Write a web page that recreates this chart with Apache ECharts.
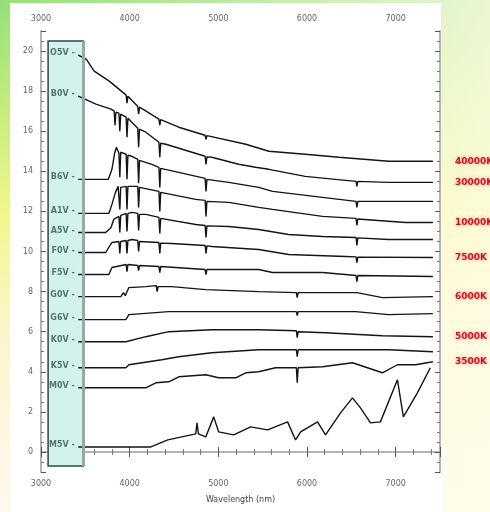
<!DOCTYPE html>
<html>
<head>
<meta charset="utf-8">
<script src="https://cdn.jsdelivr.net/npm/echarts@6/dist/echarts.min.js"></script>
<style>
html, body { margin: 0; padding: 0; }
body {
	width: 490px; height: 512px; overflow: hidden; position: relative;
	background:
		linear-gradient(90deg, rgba(255,255,255,0) 0%, rgba(255,253,232,0.8) 100%),
		linear-gradient(180deg, #94df7a 0%, #c6ed7c 22%, #f3f68c 42%, #fbf5cc 65%, #fff8ee 100%);
}
#panel { position: absolute; left: 10px; top: 3px; width: 431px; height: 509px; background: #fff; }
#main { position: absolute; left: 0; top: 0; width: 490px; height: 512px; }
</style>
</head>
<body>
<div id="panel"></div>
<div id="main"></div>
<script>
// spectral types, top to bottom
var types = ['O5V', 'B0V', 'B6V', 'A1V', 'A5V', 'F0V', 'F5V', 'G0V', 'G6V', 'K0V', 'K5V', 'M0V', 'M5V'];
// temperatures written at the right end (null = none)
var temps = ['40000K', '30000K', null, '10000K', null, '7500K', null, '6000K', null, '5000K', null, '3500K', null];

// [wavelength, flux + offset]
var o5V = [[3420,19.8],[3510,19.6],[3600,19.0],[3770,18.5],[3960,17.8],[3970,17.4],[3980,17.75],[4090,17.25],[4101,16.85],[4112,17.2],[4330,16.6],[4340,16.3],[4350,16.58],[4554,16.2],[4850,15.8],[4861,15.6],[4872,15.78],[5310,15.35],[5570,15.0],[5980,14.85],[6360,14.7],[6920,14.5],[7420,14.5]];
var b0V = [[3420,17.75],[3620,17.35],[3790,17.1],[3825,17.0],[3835,16.3],[3845,16.95],[3879,16.9],[3889,16.0],[3899,16.85],[3960,16.7],[3970,15.7],[3980,16.65],[4091,16.15],[4101,15.2],[4111,16.1],[4182,15.95],[4330,15.45],[4340,14.7],[4350,15.4],[4408,15.35],[4666,15.0],[4851,14.75],[4861,14.35],[4871,14.72],[4926,14.7],[5230,14.35],[5420,14.2],[5570,14.1],[5980,13.75],[6434,13.55],[6553,13.5],[6563,13.25],[6573,13.5],[6920,13.45],[7420,13.45]];
var b6V = [[3420,13.6],[3760,13.6],[3800,14.1],[3830,14.9],[3850,15.2],[3879,14.9],[3889,13.7],[3899,14.95],[3960,14.85],[3970,13.6],[3980,14.8],[4025,14.75],[4091,14.6],[4101,13.4],[4111,14.55],[4250,14.35],[4330,14.2],[4340,13.2],[4350,14.15],[4554,13.95],[4851,13.65],[4861,13.0],[4871,13.6],[5117,13.45],[5455,13.2],[5612,13.0],[6175,12.7],[6553,12.5],[6563,12.2],[6573,12.5],[6920,12.5],[7420,12.5]];
var a1V = [[3420,11.9],[3765,11.9],[3800,12.35],[3840,12.95],[3870,13.25],[3879,13.2],[3889,12.1],[3899,13.2],[3960,13.25],[3970,12.1],[3980,13.25],[4091,13.25],[4101,12.2],[4111,13.2],[4330,13.0],[4340,12.0],[4350,12.95],[4745,12.6],[4851,12.55],[4861,11.75],[4871,12.5],[5117,12.45],[5455,12.2],[5612,12.1],[6175,11.75],[6553,11.65],[6563,11.3],[6573,11.62],[7110,11.45],[7420,11.45]];
var a5V = [[3420,10.95],[3730,10.95],[3790,11.2],[3820,11.6],[3879,11.75],[3889,10.95],[3899,11.8],[3960,11.9],[3970,11.0],[3980,11.9],[4025,11.95],[4091,11.9],[4101,11.05],[4111,11.85],[4182,11.85],[4330,11.7],[4340,10.9],[4350,11.65],[4745,11.35],[4851,11.3],[4861,10.7],[4871,11.28],[5117,11.25],[5455,11.1],[5792,10.85],[6175,10.75],[6553,10.7],[6563,10.3],[6573,10.68],[6920,10.6],[7420,10.6]];
var f0V = [[3420,9.95],[3730,9.95],[3800,10.45],[3879,10.5],[3889,9.9],[3899,10.5],[3960,10.55],[3970,9.9],[3980,10.55],[4025,10.6],[4091,10.55],[4101,10.0],[4111,10.5],[4330,10.45],[4340,9.9],[4350,10.42],[4475,10.4],[4851,10.3],[4861,9.9],[4871,10.28],[4926,10.25],[5455,10.1],[5792,9.85],[6434,9.75],[6553,9.73],[6563,9.45],[6573,9.72],[7420,9.7]];
var f5V = [[3420,8.85],[3765,8.85],[3800,9.2],[3960,9.35],[3970,9.0],[3980,9.35],[3991,9.35],[4091,9.3],[4101,9.05],[4111,9.3],[4330,9.25],[4340,8.95],[4350,9.25],[4851,9.1],[4861,8.85],[4871,9.1],[5455,9.1],[5612,8.95],[6175,8.95],[6553,8.8],[6563,8.5],[6573,8.8],[7420,8.75]];
var g0V = [[3420,7.75],[3900,7.75],[3930,7.95],[3950,7.8],[3991,8.2],[4182,8.25],[4300,8.3],[4310,8.0],[4320,8.25],[4475,8.25],[4858,8.1],[5455,8.0],[5880,7.95],[5890,7.7],[5900,7.95],[6563,7.95],[6851,7.7],[7420,7.75]];
var g6V = [[3420,6.6],[3957,6.6],[3991,6.85],[4441,7.0],[4858,7.0],[5455,7.0],[5880,7.0],[5890,6.8],[5900,7.0],[6547,7.0],[6919,6.85],[7420,6.9]];
var k0V = [[3420,5.5],[3957,5.5],[4182,5.75],[4441,6.0],[4926,6.1],[5455,6.1],[5880,6.05],[5890,5.7],[5900,6.0],[6209,5.95],[6851,5.8],[7420,5.75]];
var k5V = [[3420,4.2],[3957,4.2],[3991,4.35],[4362,4.6],[4554,4.75],[4926,4.95],[5455,5.1],[5880,5.1],[5890,4.75],[5900,5.1],[6919,5.1],[7420,5.0]];
var m0V = [[3420,3.2],[4182,3.2],[4295,3.45],[4441,3.5],[4554,3.75],[4858,3.85],[5004,3.7],[5196,3.7],[5309,3.95],[5455,4.0],[5646,4.2],[5880,4.2],[5890,3.45],[5900,4.2],[6175,4.25],[6513,4.45],[6851,3.95],[7020,4.35],[7223,4.35],[7420,4.5]];
var m5V = [[3420,0.25],[4239,0.25],[4430,0.6],[4745,0.9],[4760,1.45],[4775,0.9],[4858,0.75],[4948,1.75],[5004,1.0],[5173,0.85],[5365,1.25],[5556,1.1],[5781,1.5],[5871,0.6],[5928,1.0],[6119,1.5],[6209,0.85],[6378,1.95],[6513,2.7],[6603,2.2],[6716,1.45],[6828,1.5],[7020,3.6],[7087,1.75],[7245,2.95],[7391,4.2]];

var spectra = [o5V, b0V, b6V, a1V, a5V, f0V, f5V, g0V, g6V, k0V, k5V, m0V, m5V];

// ultraviolet band box
var uvBox = [3080, 3478];
var uvTop = 20.5, uvBottom = -0.7;

var myChart = echarts.init(document.getElementById('main'));

var labelFont = { fontFamily: 'DejaVu Sans', fontSize: 8, color: '#666' };

var series = spectra.map(function(pts, i) {
	var s = {
		type: 'line',
		data: pts,
		showSymbol: false,
		symbol: 'none',
		lineStyle: { color: '#141414', width: 1.4 },
		z: 3
	};
	if (temps[i]) {
		s.endLabel = {
			show: true, formatter: temps[i], color: '#c8141e', fontSize: 9, fontWeight: 'bold',
			fontFamily: 'DejaVu Sans', offset: [14, 0],
			textShadowColor: '#ff9a9a', textShadowBlur: 4
		};
	}
	if (i == 0) {
		s.markArea = {
			silent: true,
			itemStyle: { color: '#d3f2ee', borderColor: '#2c4a45', borderWidth: 1.5 },
			data: [[{ coord: [uvBox[0], uvTop] }, { coord: [uvBox[1], uvBottom] }]]
		};
		s.markLine = {
			silent: true, symbol: 'none', label: { show: false },
			lineStyle: { color: '#95aaa6', width: 3, type: 'solid' },
			data: [[{ coord: [uvBox[1], uvTop] }, { coord: [uvBox[1], uvBottom] }]]
		};
	}
	return s;
});

// type names, written left of where each spectrum starts
series.push({
	type: 'scatter',
	data: spectra.map(function(pts) { return [pts[0][0], pts[0][1] + 0.1]; }),
	symbolSize: 1,
	itemStyle: { color: 'rgba(0,0,0,0)' },
	label: {
		show: true, position: 'left', distance: 3,
		formatter: function(p) { return types[p.dataIndex] + ' -'; },
		color: '#2d5750', fontSize: 8, fontWeight: 'bold', fontFamily: 'DejaVu Sans'
	},
	z: 4
});

var xCommon = {
	type: 'value', min: 3000, max: 7500, interval: 1000,
	axisLine: { show: true, lineStyle: { color: '#b4b4b4', width: 2 } },
	axisTick: { show: true, inside: true, length: 5, lineStyle: { color: '#555' } },
	minorTick: { show: true, splitNumber: 5, length: 3, lineStyle: { color: '#777' } },
	axisLabel: Object.assign({ showMaxLabel: false, margin: 8, formatter: function(v) { return String(v); } }, labelFont),
	splitLine: { show: false }
};
var yCommon = {
	type: 'value', min: -1, max: 21, splitNumber: 11,
	axisLine: { show: true, lineStyle: { color: '#b4b4b4', width: 2 } },
	axisTick: { show: true, inside: true, length: 5, lineStyle: { color: '#555' } },
	minorTick: { show: true, splitNumber: 4, length: 3, lineStyle: { color: '#777' } },
	splitLine: { show: false }
};

var option = {
	animation: false,
	backgroundColor: 'transparent',
	grid: { left: 41, right: 50, top: 31, bottom: 40 },
	xAxis: [
		Object.assign({}, xCommon, {
			position: 'bottom',
			name: 'Wavelength (nm)', nameLocation: 'middle', nameGap: 24,
			nameTextStyle: { fontFamily: 'DejaVu Sans', fontSize: 8, color: '#444' }
		}),
		Object.assign({}, xCommon, { position: 'top' })
	],
	yAxis: [
		Object.assign({}, yCommon, {
			position: 'left',
			axisLabel: Object.assign({ showMinLabel: false, showMaxLabel: false, margin: 8 }, labelFont)
		}),
		Object.assign({}, yCommon, { position: 'right', axisLabel: { show: false } })
	],
	series: series
};
myChart.setOption(option);
</script>
</body>
</html>
